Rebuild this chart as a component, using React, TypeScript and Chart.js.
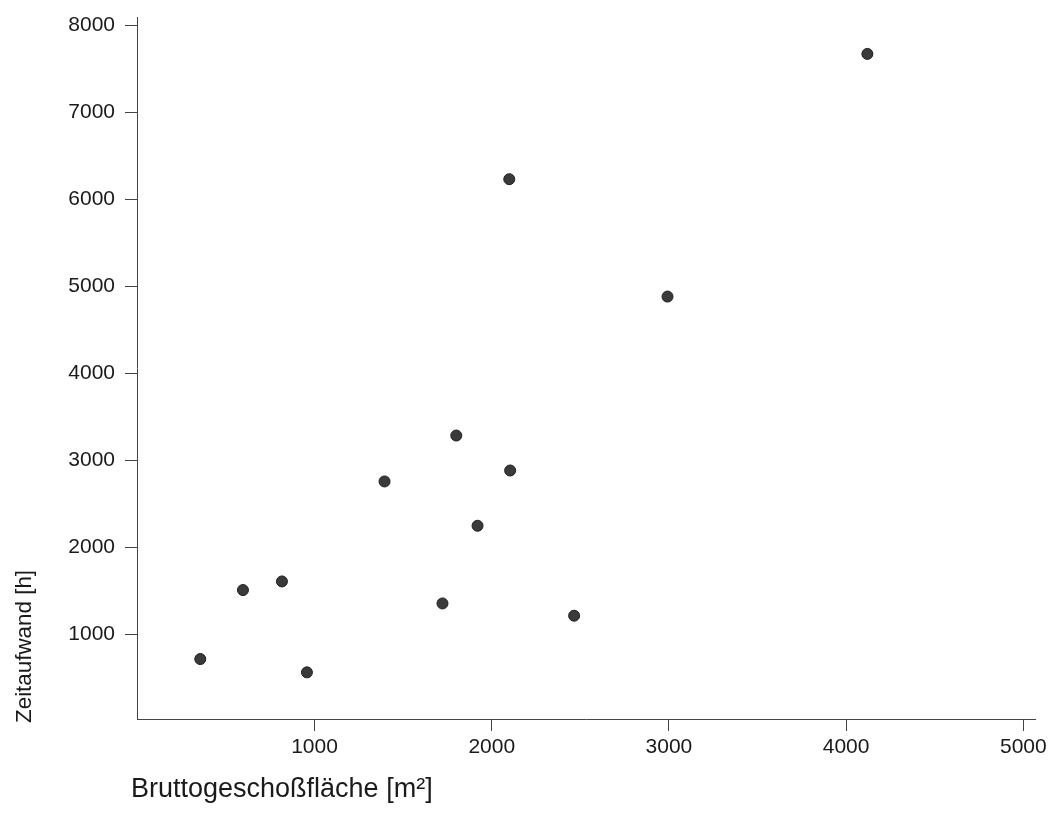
import React, { useEffect, useRef } from "react";
import { Chart, registerables } from "chart.js";

Chart.register(...registerables);

// Data
const areaM2 = [355, 596, 816, 957, 1395, 1722, 1800, 1920, 2099, 2104, 2465, 2992, 4120];
const hours = [713, 1506, 1605, 560, 2754, 1352, 3282, 2245, 6228, 2880, 1211, 4879, 7668];
const xTicks = [1000, 2000, 3000, 4000, 5000];
const yTicks = [1000, 2000, 3000, 4000, 5000, 6000, 7000, 8000];
const xTitle = "Bruttogeschoßfläche [m²]";
const yTitle = "Zeitaufwand [h]";

const FONT = "'Liberation Sans', Arial, Helvetica, sans-serif";

const titlesPlugin = {
  id: "customTitles",
  afterDraw(chart: any) {
    const { ctx, chartArea } = chart;
    ctx.save();
    ctx.fillStyle = "#1a1a1a";
    ctx.textAlign = "left";
    ctx.textBaseline = "middle";
    ctx.font = `27px ${FONT}`;
    ctx.fillText(xTitle, chartArea.left - 6, chartArea.bottom + 71);
    ctx.font = `22.4px ${FONT}`;
    ctx.translate(25, chartArea.bottom + 4);
    ctx.rotate(-Math.PI / 2);
    ctx.fillText(yTitle, 0, 0);
    ctx.restore();
  },
};

export default function App() {
  const ref = useRef<HTMLCanvasElement | null>(null);

  useEffect(() => {
    if (!ref.current) return;
    const chart = new Chart(ref.current, {
      type: "scatter",
      data: {
        datasets: [
          {
            data: areaM2.map((x, i) => ({ x, y: hours[i] })),
            backgroundColor: "#3a3a3a",
            borderColor: "#1e1e1e",
            borderWidth: 1,
            pointRadius: 5.5,
            pointHoverRadius: 5.5,
          },
        ],
      },
      options: {
        responsive: false,
        animation: false,
        devicePixelRatio: 1,
        layout: { padding: { left: 0, top: 17, right: 15, bottom: 0 } },
        plugins: {
          legend: { display: false },
          tooltip: { enabled: false },
          title: { display: false },
        },
        scales: {
          x: {
            type: "linear",
            min: -2,
            max: 5066,
            afterFit: (scale: any) => {
              scale.height = 97;
              scale.paddingLeft = 0;
              scale.paddingRight = 0;
              scale.paddingTop = 0;
              scale.paddingBottom = 0;
            },
            afterBuildTicks: (scale: any) => {
              scale.ticks = xTicks.map((v) => ({ value: v }));
            },
            grid: {
              drawOnChartArea: false,
              drawTicks: true,
              tickLength: 12,
              color: "#444",
              lineWidth: 1,
            },
            border: { display: true, color: "#444", width: 1 },
            ticks: {
              padding: 4,
              color: "#1a1a1a",
              font: { family: FONT, size: 21 },
              maxRotation: 0,
              autoSkip: false,
              callback: (v: any) => String(v),
            },
          },
          y: {
            type: "linear",
            min: 24,
            max: 8092,
            afterFit: (scale: any) => {
              scale.width = 137;
              scale.paddingLeft = 0;
              scale.paddingRight = 0;
              scale.paddingTop = 0;
              scale.paddingBottom = 0;
            },
            afterBuildTicks: (scale: any) => {
              scale.ticks = yTicks.map((v) => ({ value: v }));
            },
            grid: {
              drawOnChartArea: false,
              drawTicks: true,
              tickLength: 12,
              color: "#444",
              lineWidth: 1,
            },
            border: { display: true, color: "#444", width: 1 },
            ticks: {
              padding: 10,
              color: "#1a1a1a",
              font: { family: FONT, size: 21 },
              autoSkip: false,
              callback: (v: any) => String(v),
            },
          },
        },
      },
      plugins: [titlesPlugin],
    });
    return () => chart.destroy();
  }, []);

  return (
    <div style={{ position: "absolute", left: 0, top: 0, width: 1050, height: 816, background: "#fff" }}>
      <canvas ref={ref} width={1050} height={816} />
    </div>
  );
}
